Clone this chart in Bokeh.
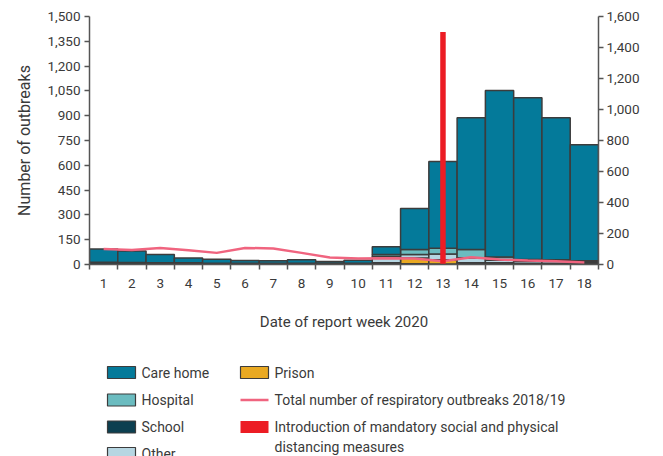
from bokeh.plotting import figure
from bokeh.models import (Range1d, LinearAxis, FixedTicker, NumeralTickFormatter, ColumnDataSource)
from bokeh.layouts import column
from bokeh.embed import file_html
from bokeh.resources import INLINE
from bokeh.core.properties import value

# ---------------- data ----------------
weeks = list(range(1, 19))
care_home = [80, 70, 50, 30, 24, 16, 14, 20, 11, 18, 48, 248, 525, 796, 1006, 978, 859, 702]
hospital = [0, 0, 0, 0, 0, 0, 0, 0, 0, 0, 12, 30, 35, 50, 20, 10, 8, 6]
school = [12, 12, 10, 10, 8, 8, 8, 8, 7, 8, 8, 5, 3, 3, 6, 5, 5, 6]
other = [2, 0, 0, 0, 0, 0, 0, 0, 0, 0, 38, 20, 35, 30, 15, 12, 13, 8]
prison = [0, 0, 0, 0, 0, 0, 0, 0, 0, 0, 2, 35, 25, 8, 5, 3, 2, 2]
resp_2018_19 = [100, 94, 107, 92, 75, 107, 103, 75, 45, 39, 40, 39, 21, 47, 32, 26, 21, 13]
intervention_week = 13
intervention_height = 1500
left_ticks = list(range(0, 1501, 150))
right_ticks = list(range(0, 1601, 200))

FONT = "Roboto"
TXT = "#3a3a3a"
AX = "#555555"
C_CARE = "#047a9a"
C_HOSP = "#6bbcc0"
C_SCHOOL = "#0c3f50"
C_OTHER = "#b6d6e2"
C_PRISON = "#e9a922"
C_PINK = "#f0647f"
C_RED = "#ec1c24"
OUT = "#3c3c3c"

W = 655
BL, BR = 89, 57
p = figure(width=W, height=340, x_range=Range1d(0.5, 18.5), y_range=Range1d(0, 1500),
           output_backend="svg", toolbar_location=None, tools="",
           min_border_left=BL, min_border_right=BR, min_border_top=16, min_border_bottom=76)
p.extra_y_ranges = {"right": Range1d(0, 1600)}
p.outline_line_color = None
p.grid.grid_line_color = None
p.background_fill_color = "white"

src = ColumnDataSource(dict(week=weeks, school=school, prison=prison, other=other,
                            hospital=hospital, care=care_home))
stack = ["school", "prison", "other", "hospital", "care"]
colors = [C_SCHOOL, C_PRISON, C_OTHER, C_HOSP, C_CARE]
p.vbar_stack(stack, x="week", width=1.0, source=src, fill_color=colors,
             line_color=OUT, line_width=1.5)

p.line(weeks, resp_2018_19, y_range_name="right", line_color=C_PINK, line_width=2.5)
p.segment(x0=[intervention_week], y0=[0], x1=[intervention_week], y1=[intervention_height],
          y_range_name="right", line_color=C_RED, line_width=5.5)

# x axis
xa = p.xaxis[0]
xa.ticker = FixedTicker(ticks=weeks, minor_ticks=[w - 0.5 for w in weeks] + [18.5])
xa.major_tick_line_color = None
xa.major_tick_out = 5
xa.major_tick_in = 0
xa.minor_tick_line_color = AX
xa.minor_tick_line_width = 1.5
xa.minor_tick_out = 5
xa.minor_tick_in = 0
xa.axis_line_color = AX
xa.axis_line_width = 1.5
xa.major_label_text_font = FONT
xa.major_label_text_font_size = "13.5px"
xa.major_label_text_color = TXT
xa.major_label_standoff = 9
xa.axis_label = "Date of report week 2020"
xa.axis_label_text_font = FONT
xa.axis_label_text_font_style = "normal"
xa.axis_label_text_font_size = "15px"
xa.axis_label_text_color = TXT
xa.axis_label_standoff = 22

# left axis
ya = p.yaxis[0]
ya.ticker = FixedTicker(ticks=left_ticks)
ya.formatter = NumeralTickFormatter(format="0,0")
ya.axis_label = "Number of outbreaks"
ya.minor_tick_line_color = None
ya.major_tick_out = 5
ya.major_tick_in = 0
ya.major_tick_line_color = AX
ya.major_tick_line_width = 1.5
ya.axis_line_color = AX
ya.axis_line_width = 1.5
ya.major_label_text_font = FONT
ya.major_label_text_font_size = "13.5px"
ya.major_label_text_color = TXT
ya.major_label_standoff = 4
ya.axis_label_text_font = FONT
ya.axis_label_text_font_style = "normal"
ya.axis_label_text_font_size = "16px"
ya.axis_label_text_color = TXT
ya.axis_label_standoff = 10

ra = LinearAxis(y_range_name="right", ticker=FixedTicker(ticks=right_ticks),
                formatter=NumeralTickFormatter(format="0,0"))
ra.minor_tick_line_color = None
ra.major_tick_out = 5
ra.major_tick_in = 0
ra.major_tick_line_color = AX
ra.major_tick_line_width = 1.5
ra.axis_line_color = AX
ra.axis_line_width = 1.5
ra.major_label_text_font = FONT
ra.major_label_text_font_size = "13.5px"
ra.major_label_text_color = TXT
ra.major_label_standoff = 3
p.add_layout(ra, "right")

# ---------------- legend (separate figure, pixel coordinates) ----------------
LH = 116
L = figure(width=W, height=LH, x_range=Range1d(BL, W - BR), y_range=Range1d(340 + LH, 340),
           output_backend="svg", toolbar_location=None, tools="",
           min_border_left=BL, min_border_right=BR, min_border_top=0, min_border_bottom=0)
L.axis.visible = False
L.grid.grid_line_color = None
L.outline_line_color = None

row_y = [372, 399.5, 426.5, 453]
col1_names = ["Care home", "Hospital", "School", "Other"]
col1_colors = [C_CARE, C_HOSP, C_SCHOOL, C_OTHER]
bx1, bx2 = 121, 254
L.rect(x=[bx1] * 4, y=row_y, width=28, height=12, fill_color=col1_colors,
       line_color=OUT, line_width=1.2)
L.text(x=[bx1 + 20] * 4, y=row_y, text=col1_names, text_font=value(FONT),
       text_font_size="14px", text_color=TXT, text_baseline="middle", text_align="left")

L.rect(x=[bx2], y=[row_y[0]], width=28, height=12, fill_color=C_PRISON, line_color=OUT, line_width=1.2)
L.segment(x0=[bx2 - 14], y0=[row_y[1]], x1=[bx2 + 14], y1=[row_y[1]], line_color=C_PINK, line_width=2.5)
L.rect(x=[bx2], y=[row_y[2]], width=28, height=12, fill_color=C_RED, line_color=None)
L.text(x=[bx2 + 20] * 4, y=[row_y[0], row_y[1], row_y[2], row_y[2] + 20],
       text=["Prison", "Total number of respiratory outbreaks 2018/19",
             "Introduction of mandatory social and physical", "distancing measures"],
       text_font=value(FONT), text_font_size="14px", text_color=TXT,
       text_baseline="middle", text_align="left")

layout = column(p, L, spacing=0)
open("out.html", "w").write(file_html(layout, INLINE))
